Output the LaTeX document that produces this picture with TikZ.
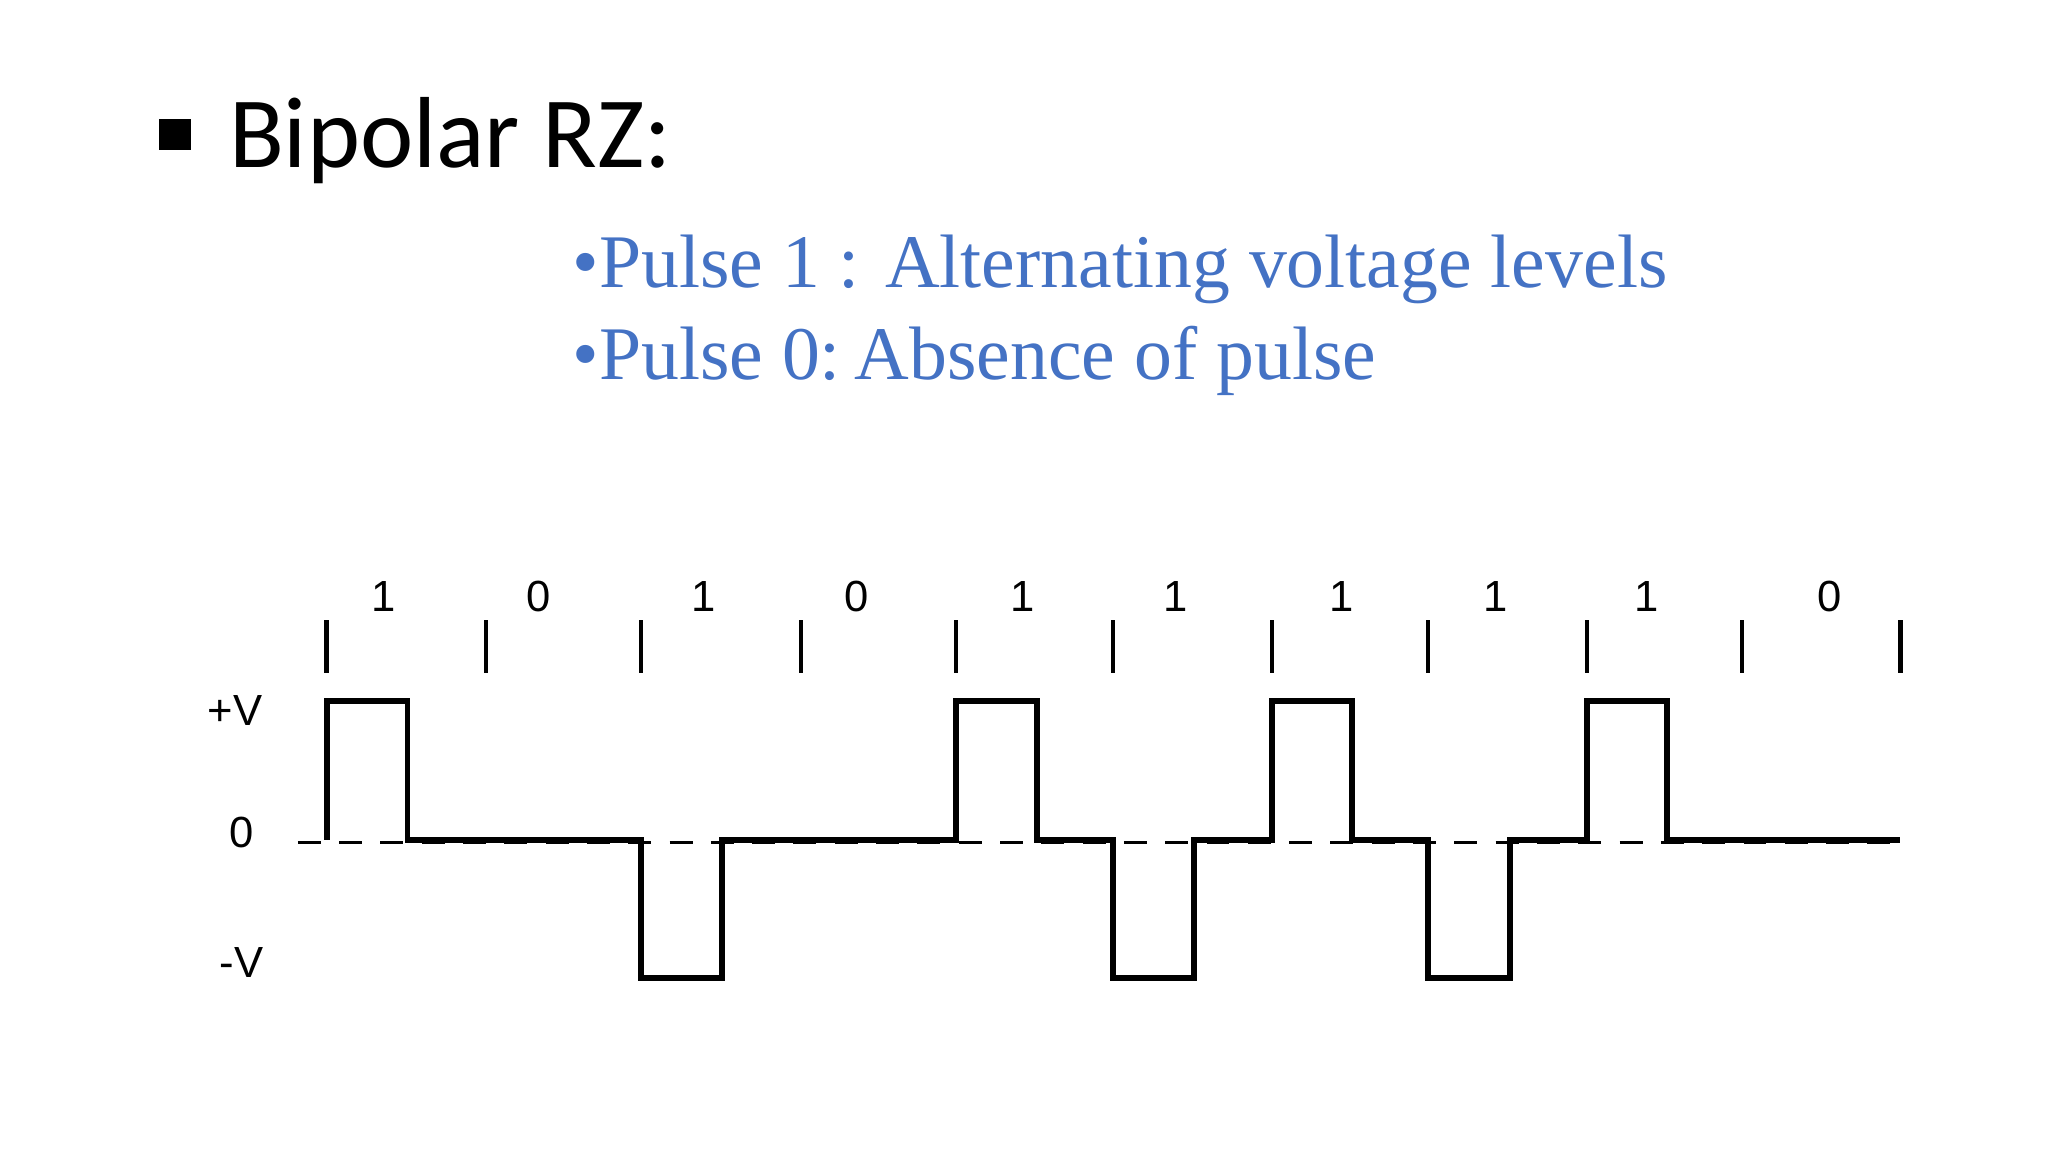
\documentclass[tikz,border=0pt]{standalone}
\usepackage{fontspec}
\setmainfont{Liberation Serif}
\newfontfamily\calfont{Carlito}
\newfontfamily\ars{Liberation Sans}
\definecolor{blu}{HTML}{4472C4}
\begin{document}
\begin{tikzpicture}[x=0.02cm,y=-0.02cm,
  lab/.style={font=\ars\fontsize{19}{22}\selectfont,inner sep=0},
  wave/.style={line width=2.6pt,line join=miter},
  tick/.style={line width=1.8pt}]
\useasboundingbox (0,0) rectangle (1568,882);
\fill (122,91) rectangle (146,115);
\node[anchor=west,inner sep=0,font=\calfont\fontsize{44}{48}\selectfont] (t) at (175,108) {Bipolar RZ:};
\node[anchor=west,inner sep=0,text=blu,font=\fontsize{33}{37}\selectfont] (b1) at (438,206) {•Pulse 1 : Alternating voltage levels};
\node[anchor=west,inner sep=0,text=blu,font=\fontsize{33}{37}\selectfont] (b2) at (438,276) {•Pulse 0:\hspace{-0.15em} Absence of pulse};
\foreach \x in {250,372,491,613,732,852,974,1093,1215,1334,1455}
  \draw[tick] (\x,475) -- (\x,515);
\foreach \x/\t in {294/1,412/0,539/1,656/0,783/1,900/1,1027/1,1145/1,1261/1,1401/0}
  \node[lab] at (\x,457) {\t};
\node[lab] (pv) at (180,544) {+V};
\node[lab] (zv) at (185,637) {0};
\node[lab] (mv) at (185,737) {-V};
\draw[dashed,line width=1.2pt,dash pattern=on 10pt off 8pt] (228,645) -- (1455,645);
\draw[wave] (250,643) -- (250,537) -- (312,537) -- (312,643) -- (491,643) -- (491,749) -- (553,749) -- (553,643)
 -- (732,643) -- (732,537) -- (794,537) -- (794,643) -- (852,643) -- (852,749) -- (914,749) -- (914,643)
 -- (974,643) -- (974,537) -- (1035,537) -- (1035,643) -- (1093,643) -- (1093,749) -- (1156,749) -- (1156,643)
 -- (1215,643) -- (1215,537) -- (1276,537) -- (1276,643) -- (1455,643);
\end{tikzpicture}
\end{document}
